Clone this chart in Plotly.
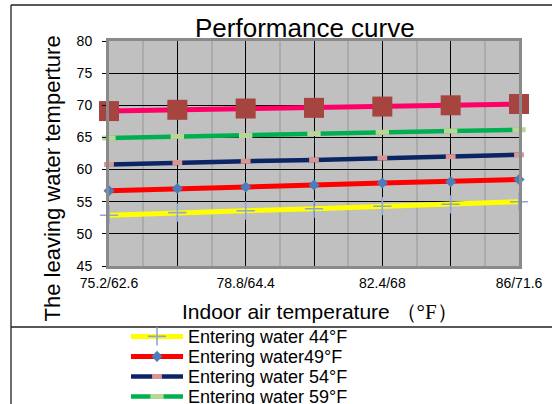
import plotly.graph_objects as go

# Indoor air temperature (dry bulb / wet bulb, °F)
categories = ["75.2/62.6", "77/63.5", "78.8/64.4", "80.6/66.2", "82.4/68", "84.2/69.8", "86/71.6"]
labelled = ["75.2/62.6", "78.8/64.4", "82.4/68", "86/71.6"]

# Leaving water temperature (°F) for each entering water temperature
leave_44 = [52.9, 53.3, 53.6, 53.9, 54.3, 54.6, 55.0]
leave_49 = [56.7, 57.05, 57.3, 57.6, 57.9, 58.1, 58.45]
leave_54 = [60.8, 61.1, 61.3, 61.5, 61.8, 62.0, 62.3]
leave_59 = [64.9, 65.15, 65.3, 65.6, 65.8, 66.0, 66.2]
leave_64 = [69.1, 69.3, 69.5, 69.6, 69.8, 70.0, 70.2]

names = ["Entering water 44°F", "Entering water49°F", "Entering water 54°F",
         "Entering water 59°F", "Entering water 64°F"]

y_ticks = [45, 50, 55, 60, 65, 70, 75, 80]

FONT = "Liberation Sans, Arial, sans-serif"
DEG = '<span style="font-family:Liberation Serif, serif">°F</span>'

idx = list(range(len(categories)))
ticktext = [c if c in labelled else "" for c in categories]

styles = [
    ("#FFFF00", 5, dict(symbol="cross-thin", size=13, line=dict(color="#8EA6D6", width=1.6),
                        color="#8EA6D6")),
    ("#FF0000", 5, dict(symbol="diamond", size=8.5, color="#4A7DBA")),
    ("#0B2463", 4.5, dict(symbol="line-ew", size=7, line=dict(color="#D99694", width=5),
                          color="#D99694")),
    ("#00B050", 4.5, dict(symbol="line-ew", size=9.5, line=dict(color="#B7D795", width=5),
                          color="#B7D795")),
    ("#FF0066", 5, dict(symbol="square", size=20, color="#A6453F", line=dict(width=0))),
]
values = [leave_44, leave_49, leave_54, leave_59, leave_64]

# plot area in pixels: x 109..519, y 41..266 inside a 552x404 page
L, R, T, B = 109, 519, 41, 266
W, H = R - L, B - T


def px(x):
    return (x - L) / W


def py(y):
    return (B - y) / H


fig = go.Figure()
legends = {}
for i, (name, vals, (color, width, marker)) in enumerate(zip(names, values, styles)):
    key = "legend" if i == 0 else f"legend{i + 1}"
    fig.add_trace(go.Scatter(
        x=idx, y=vals, name=name, mode="lines+markers",
        line=dict(color=color, width=width),
        marker=marker, cliponaxis=False, legend=key,
    ))
    # one legend box per entry, stacked 20 px apart below the chart frame
    legends[key] = dict(
        x=px(126), y=py(336.7 + 20 * i), xanchor="left", yanchor="middle",
        font=dict(family=FONT, size=18, color="black"),
        bgcolor="rgba(0,0,0,0)", borderwidth=0,
        itemwidth=52, itemsizing="trace",
    )

fig.update_layout(
    width=552, height=404,
    margin=dict(l=L, r=552 - R, t=T, b=404 - B, autoexpand=False),
    paper_bgcolor="white",
    plot_bgcolor="#C0C0C0",
    font=dict(family=FONT, color="black", size=14),
    showlegend=True,
    xaxis=dict(
        range=[0, len(categories) - 1],
        tickmode="array", tickvals=idx, ticktext=ticktext,
        ticks="", ticklabelstandoff=2,
        showgrid=True, gridcolor="black", gridwidth=1,
        minor=dict(tickvals=[i + 0.5 for i in idx[:-1]], showgrid=True,
                   gridcolor="#ABABAB", gridwidth=2, ticks=""),
        showline=True, linecolor="#8A8A8A", linewidth=3, mirror=True,
        zeroline=False, tickfont=dict(size=14),
    ),
    xaxis2=dict(
        range=[0, len(categories) - 1], overlaying="x", side="top", anchor="y",
        tickmode="array", tickvals=idx, showticklabels=False,
        ticks="outside", ticklen=6, tickcolor="black", tickwidth=1,
        showgrid=False, showline=True, linecolor="black", linewidth=1,
        zeroline=False,
    ),
    yaxis=dict(
        range=[45, 80], tickmode="array", tickvals=y_ticks,
        ticks="outside", ticklen=4, tickcolor="black", ticklabelstandoff=7,
        showgrid=True, gridcolor="black", gridwidth=1,
        showline=True, linecolor="#8A8A8A", linewidth=3, mirror=True,
        zeroline=False, tickfont=dict(size=14),
    ),
    annotations=[
        dict(text="Performance curve", x=px(305), y=py(28), xref="paper", yref="paper",
             xanchor="center", yanchor="middle", showarrow=False,
             font=dict(size=26, family=FONT)),
        dict(text="Indoor air temperature （" + DEG + "）", x=px(320), y=py(312),
             xref="paper", yref="paper", xanchor="center", yanchor="middle",
             showarrow=False, font=dict(size=21, family=FONT)),
        dict(text="The leaving water temperture", x=px(52), y=py(178.5),
             xref="paper", yref="paper", xanchor="center", yanchor="middle",
             showarrow=False, textangle=-90, font=dict(size=22, family=FONT)),
    ],
    shapes=[
        dict(type="line", xref="paper", yref="paper", x0=px(11), x1=px(11),
             y0=py(5), y1=py(420), line=dict(color="#202020", width=1.3)),
        dict(type="line", xref="paper", yref="paper", x0=px(11), x1=px(570),
             y0=py(5), y1=py(5), line=dict(color="#202020", width=1.3)),
        dict(type="line", xref="paper", yref="paper", x0=px(11), x1=px(570),
             y0=py(327), y1=py(327), line=dict(color="#202020", width=1.3)),
    ],
    **legends,
)

fig.write_html("out.html")
